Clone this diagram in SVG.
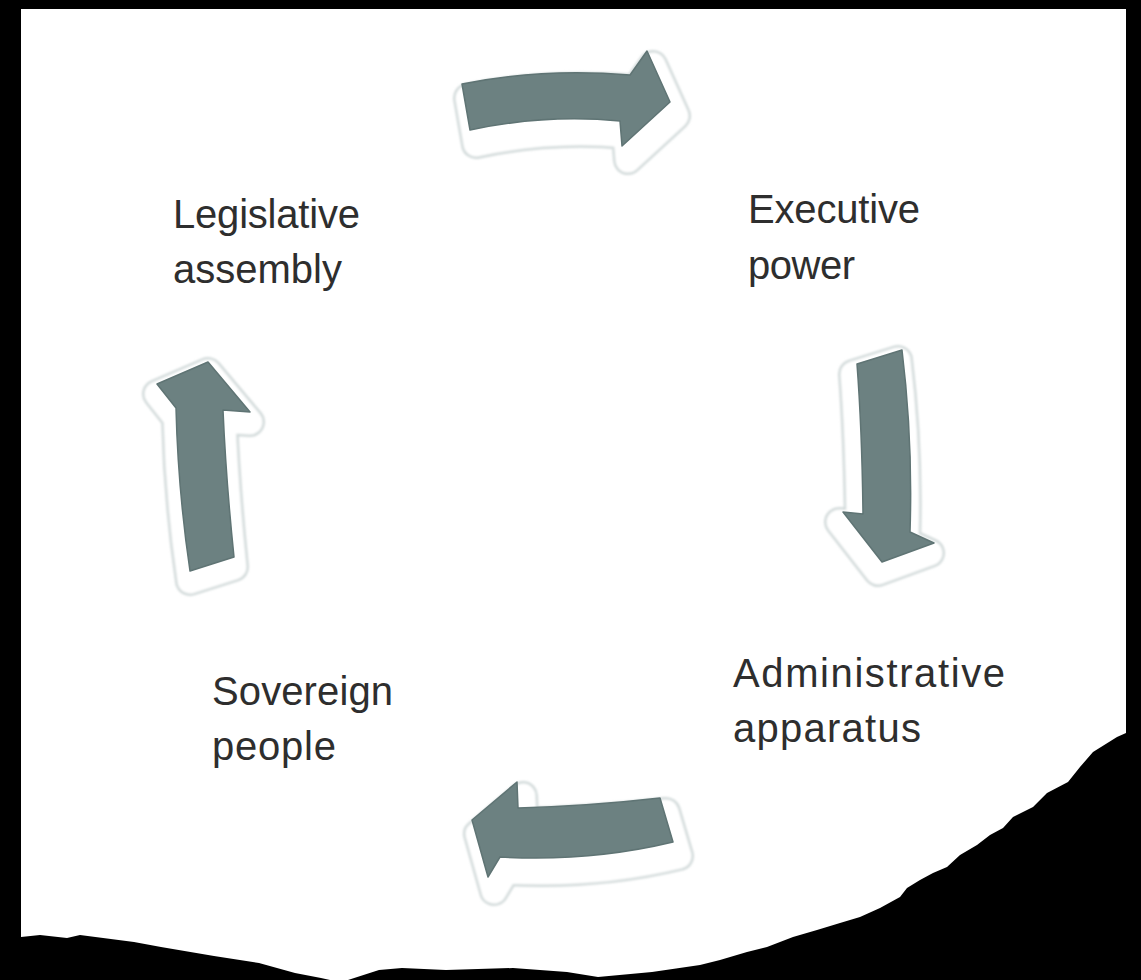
<svg xmlns="http://www.w3.org/2000/svg" xmlns:xlink="http://www.w3.org/1999/xlink" width="1141" height="980" viewBox="0 0 1141 980">
  <style>
    .label { font-family: "Liberation Sans", Arial, sans-serif; font-size: 40px; fill: #2e2e2e; }
    .arrow { fill: #6c8181; stroke: #5f7474; stroke-width: 1.5; stroke-linejoin: round; }
    .halo-outer { fill: none; stroke: #d2dada; stroke-width: 30; stroke-linejoin: round; }
    .halo-inner { fill: #ffffff; stroke: #ffffff; stroke-width: 25; stroke-linejoin: round; }
  </style>
  <defs>
    <filter id="soft" x="-20%" y="-20%" width="140%" height="140%">
      <feGaussianBlur stdDeviation="1.2"/>
    </filter>
    <path id="p-top" d="M462,84 Q540,68 630,75 L647,51 L670,102 L622,146 L620,121 Q545,114 470,130 Z"/>
    <path id="p-right" d="M857,364 L902,350 Q913,440 910,532 L934,543 L882,562 L843,512 L863,514 Q862,430 857,364 Z"/>
    <path id="p-bottom" d="M472,820 L517,782 L518,808 Q590,806 660,798 L673,842 Q590,862 500,857 L488,877 Z"/>
    <path id="p-left" d="M157,384 L208,362 L250,412 L223,410 Q226,480 234,557 L190,571 Q178,490 176,408 Z"/>
  </defs>

  <rect x="0" y="0" width="1141" height="980" fill="#000000"/>
  <path id="paper" fill="#ffffff" d="M21,9 L1126,9 L1126,733 L1117,737 L1093,752 L1080,767 L1068,782 L1047,793 L1033,807 L1013,817 L1003,828 L990,835 L977,845 L960,855 L947,867 L933,873 L920,880 L907,888 L900,897 L880,908 L860,917 L840,923 L817,930 L793,937 L767,947 L747,952 L720,960 L700,965 L652,972 L598,977 L567,972 L513,968 L446,970 L402,968 L379,970 L348,980 L330,980 L321,978 L295,973 L259,963 L214,956 L161,947 L134,942 L80,935 L67,938 L40,935 L21,937 Z"/>

  <g id="connectors">
    <g id="arrow-top">
      <g filter="url(#soft)" transform="translate(6,14)">
        <use xlink:href="#p-top" href="#p-top" class="halo-outer"/>
        <use xlink:href="#p-top" href="#p-top" class="halo-inner"/>
      </g>
      <use xlink:href="#p-top" href="#p-top" class="arrow"/>
    </g>
    <g id="arrow-right">
      <g filter="url(#soft)" transform="translate(-4,10)">
        <use xlink:href="#p-right" href="#p-right" class="halo-outer"/>
        <use xlink:href="#p-right" href="#p-right" class="halo-inner"/>
      </g>
      <use xlink:href="#p-right" href="#p-right" class="arrow"/>
    </g>
    <g id="arrow-bottom">
      <g filter="url(#soft)" transform="translate(6,14)">
        <use xlink:href="#p-bottom" href="#p-bottom" class="halo-outer"/>
        <use xlink:href="#p-bottom" href="#p-bottom" class="halo-inner"/>
      </g>
      <use xlink:href="#p-bottom" href="#p-bottom" class="arrow"/>
    </g>
    <g id="arrow-left">
      <g filter="url(#soft)" transform="translate(0,10)">
        <use xlink:href="#p-left" href="#p-left" class="halo-outer"/>
        <use xlink:href="#p-left" href="#p-left" class="halo-inner"/>
      </g>
      <use xlink:href="#p-left" href="#p-left" class="arrow"/>
    </g>
  </g>

  <g id="node-legislative">
    <text class="label" x="173" y="228" textLength="187">Legislative</text>
    <text class="label" x="173" y="283" textLength="169">assembly</text>
  </g>
  <g id="node-executive">
    <text class="label" x="748" y="223" textLength="172">Executive</text>
    <text class="label" x="748" y="279" textLength="107">power</text>
  </g>
  <g id="node-administrative">
    <text class="label" x="733" y="687" textLength="272">Administrative</text>
    <text class="label" x="733" y="742" textLength="188">apparatus</text>
  </g>
  <g id="node-sovereign">
    <text class="label" x="212" y="705" textLength="181">Sovereign</text>
    <text class="label" x="212" y="760" textLength="124">people</text>
  </g>
</svg>
